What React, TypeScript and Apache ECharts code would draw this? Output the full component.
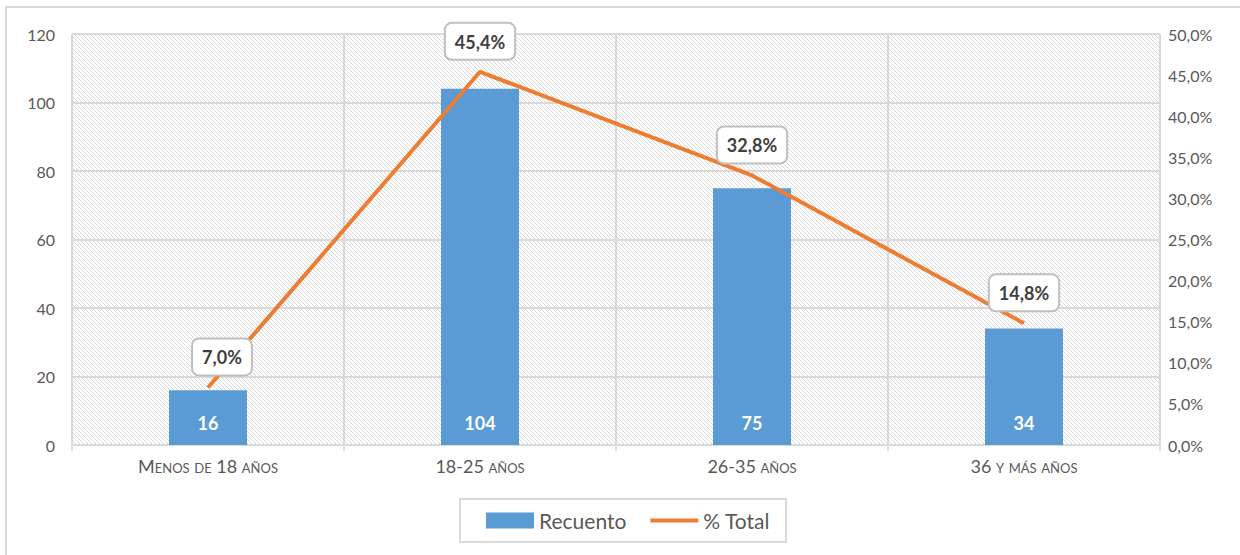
import React, { useEffect, useRef } from "react";
import * as echarts from "echarts";

const categories = ["Menos de 18 años", "18-25 años", "26-35 años", "36 y más años"];
const recuento = [16, 104, 75, 34];
const pctTotal = [7.0, 45.4, 32.8, 14.8];
const leftTicks = { min: 0, max: 120, interval: 20 };
const rightTicks = { min: 0, max: 50, interval: 5 };
const seriesNames = ["Recuento", "% Total"];

function makeHatch() {
  const c = document.createElement("canvas");
  c.width = 4;
  c.height = 4;
  const ctx = c.getContext("2d")!;
  ctx.fillStyle = "#ffffff";
  ctx.fillRect(0, 0, 4, 4);
  ctx.fillStyle = "#d9d9d9";
  for (let i = 0; i < 4; i++) ctx.fillRect(i, i, 1, 1);
  return c;
}

const fmtPct = (v: number) => v.toFixed(1).replace(".", ",") + "%";

export default function App() {
  const ref = useRef<HTMLDivElement>(null);
  useEffect(() => {
    document.body.style.margin = "0";
    const chart = echarts.init(ref.current!, undefined, { renderer: "svg" });
    const hatch = makeHatch();
    const font = "Lato, 'Open Sans', sans-serif";
    chart.setOption({
      animation: false,
      textStyle: { fontFamily: font },
      grid: {
        left: 72,
        right: 80,
        top: 34,
        bottom: 110,
        show: true,
        borderWidth: 0,
        backgroundColor: { image: hatch, repeat: "repeat", imageWidth: 4, imageHeight: 4 },
      },
      graphic: [
        {
          type: "rect",
          shape: { x: 6, y: 7, width: 1300, height: 600 },
          style: { fill: "none", stroke: "#d9d9d9", lineWidth: 2 },
          silent: true,
        },
      ],
      legend: {
        left: 460,
        top: 499,
        padding: [11, 16, 11, 26],
        borderColor: "#d9d9d9",
        borderWidth: 2,
        itemWidth: 48,
        itemHeight: 16,
        itemGap: 24,
        textStyle: { color: "#595959", fontSize: 21, fontFamily: font },
        data: [
          { name: seriesNames[0], icon: "rect" },
          {
            name: seriesNames[1],
            icon: "path://M0,0 M50,16 M0,6 L50,6 L50,10 L0,10 Z",
            itemStyle: { color: "#ed7d31" },
          },
        ],
      },
      xAxis: {
        type: "category",
        data: categories,
        boundaryGap: true,
        axisLine: { lineStyle: { color: "#d9d9d9", width: 2 } },
        axisTick: { show: true, length: 6, lineStyle: { color: "#d9d9d9", width: 1.5 } },
        splitLine: { show: true, lineStyle: { color: "#d9d9d9", width: 2 } },
        axisLabel: {
          color: "#595959",
          fontSize: 18,
          fontFamily: "Lato;font-variant:small-caps",
          margin: 16,
        },
      },
      yAxis: [
        {
          type: "value",
          min: leftTicks.min,
          max: leftTicks.max,
          interval: leftTicks.interval,
          axisLine: { show: false },
          axisTick: { show: false },
          splitLine: { show: true, lineStyle: { color: "#d9d9d9", width: 2 } },
          axisLabel: { color: "#595959", fontSize: 16, margin: 17, fontFamily: font },
        },
        {
          type: "value",
          min: rightTicks.min,
          max: rightTicks.max,
          interval: rightTicks.interval,
          axisLine: { show: false },
          axisTick: { show: false },
          splitLine: { show: false },
          axisLabel: {
            color: "#595959",
            fontSize: 16,
            margin: 8,
            fontFamily: font,
            formatter: (v: number) => fmtPct(v),
          },
        },
      ],
      series: [
        {
          name: seriesNames[0],
          type: "bar",
          data: recuento,
          barWidth: 78,
          itemStyle: { color: "#5b9bd5" },
          label: {
            show: true,
            position: "insideBottom",
            distance: 13,
            color: "#ffffff",
            fontWeight: "bold",
            fontSize: 18,
            fontFamily: font,
          },
        },
        {
          name: seriesNames[1],
          type: "line",
          yAxisIndex: 1,
          data: pctTotal.map((v, i) =>
            i === 0 ? { value: v, label: { offset: [14, 0] } } : v
          ),
          symbol: "circle",
          symbolSize: 2,
          showSymbol: true,
          showAllSymbol: true,
          lineStyle: { color: "#ed7d31", width: 4 },
          itemStyle: { color: "rgba(0,0,0,0)" },
          label: {
            show: true,
            position: "top",
            distance: 12,
            formatter: (p: any) => fmtPct(p.value),
            color: "#404040",
            fontWeight: "bold",
            fontSize: 18,
            fontFamily: font,
            backgroundColor: "#ffffff",
            borderColor: "#bfbfbf",
            borderWidth: 2,
            borderRadius: 6,
            padding: [9, 9, 8, 9],
          },
          z: 5,
        },
      ],
    });
    return () => chart.dispose();
  }, []);
  return <div ref={ref} style={{ width: 1240, height: 555 }} />;
}
